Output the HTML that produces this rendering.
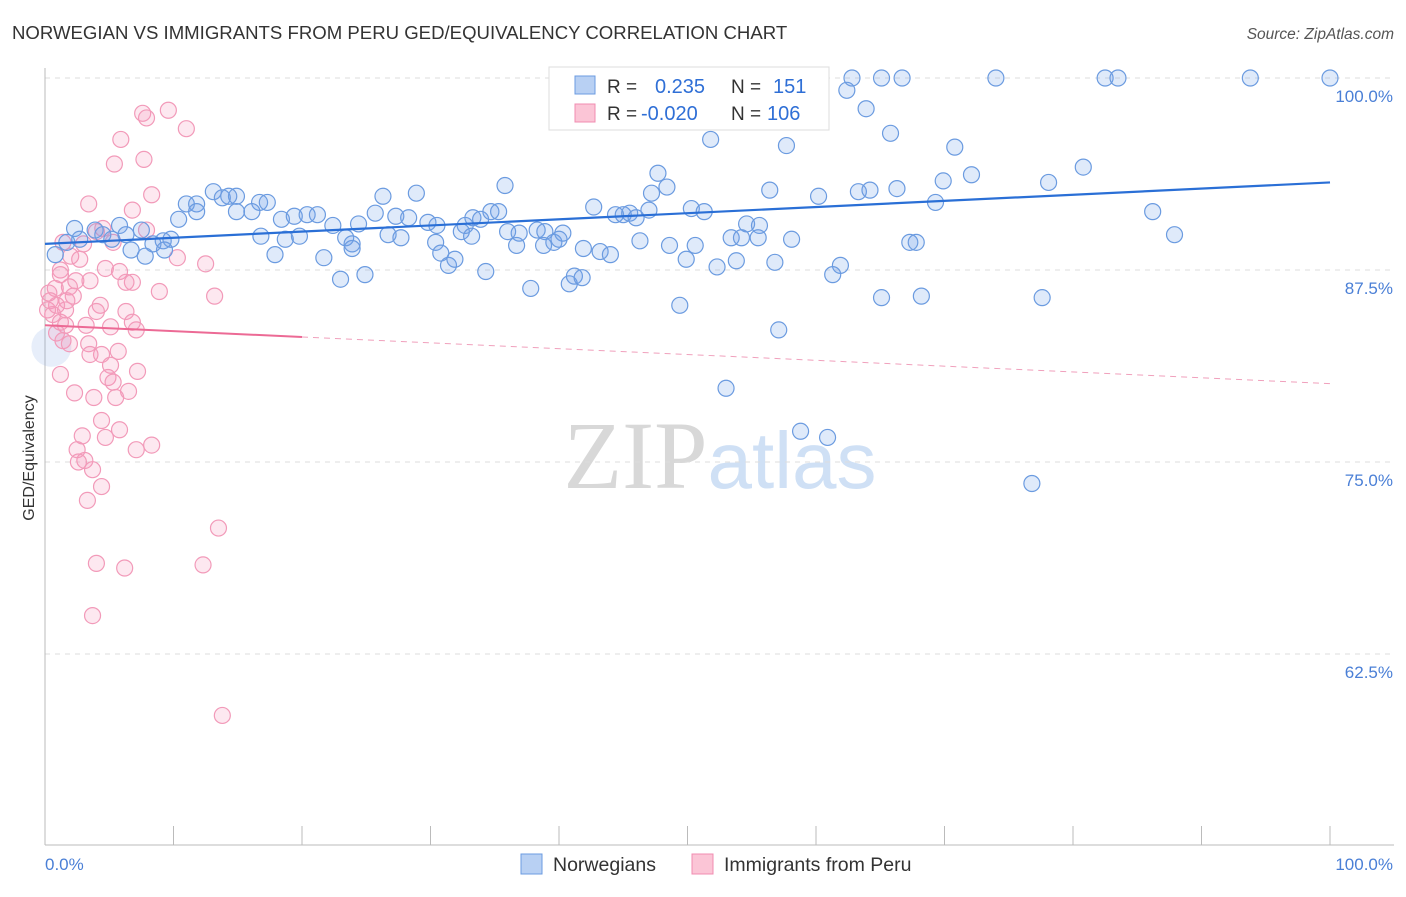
<!DOCTYPE html>
<html><head><meta charset="utf-8"><style>
body{margin:0;background:#fff;font-family:"Liberation Sans",sans-serif;}
svg text{font-family:"Liberation Sans",sans-serif;}
</style></head><body>
<svg id="chart" width="1406" height="892" viewBox="0 0 1406 892" xmlns="http://www.w3.org/2000/svg">
<text x="12" y="39" font-size="18.6" fill="#333">NORWEGIAN VS IMMIGRANTS FROM PERU GED/EQUIVALENCY CORRELATION CHART</text>
<text x="1394" y="39" font-size="15.5" fill="#555" text-anchor="end" font-style="italic">Source: ZipAtlas.com</text>
<text x="720" y="488" font-size="96" text-anchor="middle"><tspan fill="#d8d8d8" font-family="Liberation Serif">ZIP</tspan><tspan fill="#cfe0f5" font-size="80">atlas</tspan></text>
<g id="grid"></g>
<g id="axes"></g>
<g id="marks"></g>
<text transform="translate(34,458) rotate(-90)" font-size="16" fill="#333" text-anchor="middle">GED/Equivalency</text>
<g>
<rect x="549" y="67" width="280" height="63" fill="#fff" stroke="#ddd"/>
<rect x="575" y="76" width="20" height="18" fill="#b8d0f3" stroke="#6b9be0"/>
<rect x="575" y="104" width="20" height="18" fill="#fbc5d6" stroke="#f08cb0"/>
<text x="607" y="93" font-size="19" fill="#333">R =</text>
<text x="655" y="93" font-size="20" fill="#2f6fd6">0.235</text>
<text x="731" y="93" font-size="19" fill="#333">N =</text>
<text x="773" y="93" font-size="20" fill="#2f6fd6">151</text>
<text x="607" y="120" font-size="19" fill="#333">R =</text>
<text x="641" y="120" font-size="20" fill="#2f6fd6">-0.020</text>
<text x="731" y="120" font-size="19" fill="#333">N =</text>
<text x="767" y="120" font-size="20" fill="#2f6fd6">106</text>
</g>
<g>
<rect x="521" y="854" width="21" height="20" fill="#b8d0f3" stroke="#6b9be0"/>
<text x="553" y="871" font-size="19.5" fill="#333">Norwegians</text>
<rect x="692" y="854" width="21" height="20" fill="#fbc5d6" stroke="#f08cb0"/>
<text x="724" y="871" font-size="19.5" fill="#333">Immigrants from Peru</text>
</g>
</svg>
<script>
const yTicks=[100,87.5,75,62.5];
const yTickLabels=["100.0%","87.5%","75.0%","62.5%"];
const xTickLabels=["0.0%","100.0%"];
const blueX=[60.1,62.8,65.1,66.7,74.0,82.5,83.5,93.8,100,62.4,63.9,65.8,51.8,57.7,70.8,80.8,47.7,78.1,72.1,69.9,35.8,48.4,56.4,60.2,63.3,64.2,66.3,13.1,14.9,11.0,11.8,13.8,16.7,17.3,14.3,26.3,28.9,42.7,47.2,50.3,51.3,69.3,86.2,87.9,2.3,5.8,7.5,10.4,11.8,14.9,16.1,18.4,19.4,20.4,21.2,22.4,24.4,25.7,27.3,28.3,29.8,33.3,33.9,34.7,35.3,30.5,32.4,32.7,36.0,36.9,38.3,38.9,40.3,44.4,45.0,45.5,46.0,47.0,54.6,55.6,1.7,2.7,3.9,4.5,5.2,6.3,8.4,9.2,9.8,6.7,7.8,9.3,16.8,18.7,19.8,23.4,23.9,26.7,27.7,30.4,33.2,36.7,38.8,39.6,40.0,43.2,44.0,41.9,46.3,48.6,50.6,53.4,54.2,55.5,58.1,67.3,67.8,17.9,21.7,23.9,30.8,31.4,31.9,34.3,49.9,52.3,53.8,56.8,61.9,61.3,23.0,24.9,37.8,40.8,41.2,41.8,49.4,65.1,68.2,77.6,57.1,53.0,58.8,60.9,76.8,0.8];
const blueY=[100,100,100,100,100,100,100,100,100,99.2,98.0,96.4,96.0,95.6,95.5,94.2,93.8,93.2,93.7,93.3,93.0,92.9,92.7,92.3,92.6,92.7,92.8,92.6,92.3,91.8,91.8,92.2,91.9,91.9,92.3,92.3,92.5,91.6,92.5,91.5,91.3,91.9,91.3,89.8,90.2,90.4,90.1,90.8,91.3,91.3,91.3,90.8,91.0,91.1,91.1,90.4,90.5,91.2,91.0,90.9,90.6,90.9,90.8,91.3,91.3,90.4,90.0,90.4,90.0,89.9,90.1,90.0,89.9,91.1,91.1,91.2,90.9,91.4,90.5,90.4,89.3,89.5,90.1,89.8,89.5,89.8,89.2,89.4,89.5,88.8,88.4,88.8,89.7,89.5,89.7,89.6,89.2,89.8,89.6,89.3,89.7,89.1,89.1,89.3,89.5,88.7,88.5,88.9,89.4,89.1,89.1,89.6,89.6,89.6,89.5,89.3,89.3,88.5,88.3,88.9,88.6,87.8,88.2,87.4,88.2,87.7,88.1,88.0,87.8,87.2,86.9,87.2,86.3,86.6,87.1,87.0,85.2,85.7,85.8,85.7,83.6,79.8,77.0,76.6,73.6,88.5];
const pinkX=[7.6,7.9,9.6,11.0,5.9,7.7,5.4,8.3,3.4,6.8,4.5,7.9,4.0,1.4,3.0,5.3,2.0,2.7,1.2,1.2,4.7,5.8,6.8,3.5,2.4,1.9,0.8,0.3,0.4,1.7,2.2,4.3,6.3,4.0,6.8,7.1,5.1,3.2,1.2,1.6,0.6,0.2,0.9,1.4,1.9,3.4,5.7,4.4,3.5,5.1,7.2,4.9,1.2,5.3,2.3,3.8,6.5,5.5,4.4,5.8,4.7,2.9,8.3,7.1,2.5,3.1,2.6,3.7,4.4,3.3,13.5,4.0,6.2,12.3,3.7,13.8,10.3,8.9,13.2,12.5,6.3,1.6,0.9];
const pinkY=[97.7,97.4,97.9,96.7,96.0,94.7,94.4,92.4,91.8,91.4,90.2,90.1,90.0,89.3,89.2,89.3,88.4,88.2,87.5,87.2,87.6,87.4,86.7,86.8,86.8,86.4,86.3,86.0,85.5,85.5,85.8,85.2,84.8,84.8,84.1,83.6,83.8,83.9,84.1,83.9,84.6,84.9,83.4,82.9,82.7,82.7,82.2,82.0,82.0,81.3,80.9,80.5,80.7,80.2,79.5,79.2,79.6,79.2,77.7,77.1,76.6,76.7,76.1,75.8,75.8,75.1,75.0,74.5,73.4,72.5,70.7,68.4,68.1,68.3,65.0,58.5,88.3,86.1,85.8,87.9,86.7,84.9,85.2];
const blueTrend=[89.2,93.2];
const pinkTrend=[83.9,80.1];
const NS="http://www.w3.org/2000/svg";
const X0=45,X1=1330,Y100=78,PXPER=192/12.5;
function xs(v){return X0+(X1-X0)*v/100;}
function ys(v){return Y100+(100-v)*PXPER;}
function mk(tag,attrs,parent){const e=document.createElementNS(NS,tag);for(const k in attrs)e.setAttribute(k,attrs[k]);document.getElementById(parent).appendChild(e);return e;}
yTicks.forEach((t,i)=>{
 const l=mk('line',{x1:X0,x2:1394,y1:ys(t),y2:ys(t),stroke:'#ddd','stroke-dasharray':'5,5'},'grid');
 
 
 const tx=mk('text',{x:1393,y:ys(t)+24,'font-size':17,fill:'#4a7fd6','text-anchor':'end'},'axes');
 tx.textContent=yTickLabels[i];
 
 
});
const ax=mk('line',{x1:X0,x2:1394,y1:845,y2:845,stroke:'#bbb'},'axes');


const ay=mk('line',{x1:X0,x2:X0,y1:68,y2:845,stroke:'#bbb'},'axes');


for(let i=0;i<=10;i++){const t=mk('line',{x1:xs(i*10),x2:xs(i*10),y1:826,y2:845,stroke:'#bbb'},'axes');
 
 }
[[0,'start',45],[100,'end',1393]].forEach((d,i)=>{const t=mk('text',{x:d[2],y:870,'font-size':17,fill:'#4a7fd6','text-anchor':d[1]},'axes');t.textContent=xTickLabels[i];
 
 });
const big=mk('circle',{cx:xs(0.5),cy:ys(82.5),r:20,fill:'rgba(120,160,230,0.18)'},'marks');


pinkX.forEach((x,i)=>{const c=mk('circle',{cx:xs(x),cy:ys(pinkY[i]),r:8,fill:'rgba(245,150,185,0.22)',stroke:'#f29ab9','stroke-width':1.2},'marks');
 
 });
blueX.forEach((x,i)=>{const c=mk('circle',{cx:xs(x),cy:ys(blueY[i]),r:8,fill:'rgba(110,160,230,0.22)',stroke:'#6b9be0','stroke-width':1.2},'marks');
 
 });
const bt=mk('line',{x1:xs(0),y1:ys(blueTrend[0]),x2:xs(100),y2:ys(blueTrend[1]),stroke:'#2a6fd6','stroke-width':2.2},'marks');


const pm=pinkTrend[0]+(pinkTrend[1]-pinkTrend[0])*0.2;
const ps=mk('line',{x1:xs(0),y1:ys(pinkTrend[0]),x2:xs(20),y2:ys(pm),stroke:'#ec6a95','stroke-width':2},'marks');


const pd=mk('line',{x1:xs(20),y1:ys(pm),x2:xs(100),y2:ys(pinkTrend[1]),stroke:'#f0a0bc','stroke-width':1,'stroke-dasharray':'6,5'},'marks');


</script>
</body></html>
